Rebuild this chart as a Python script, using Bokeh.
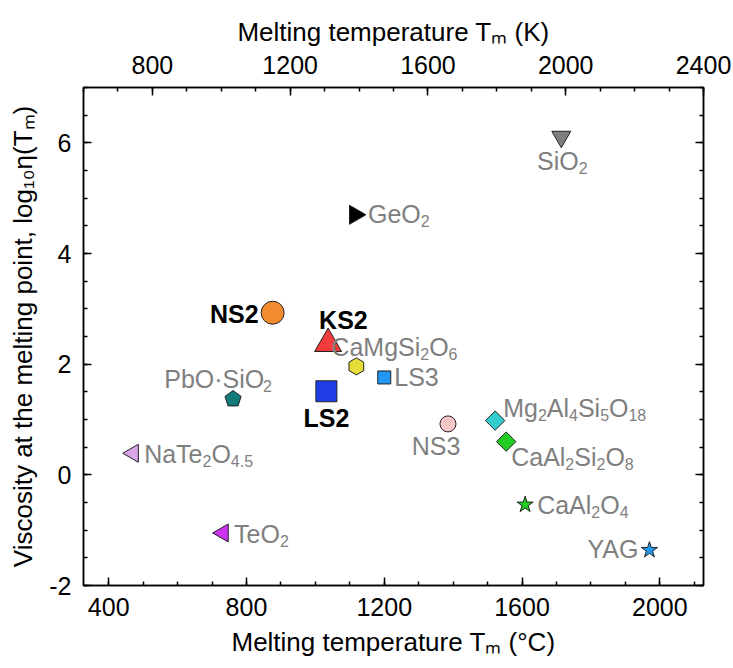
import math

from bokeh.core.properties import value
from bokeh.embed import file_html
from bokeh.models import (ColumnDataSource, CustomJSTickFormatter, LinearAxis,
                          Range1d, SingleIntervalTicker)
from bokeh.plotting import figure
from bokeh.resources import INLINE

# ---------------------------------------------------------------- data
names = ["SiO2", "GeO2", "NS2", "KS2", "LS2", "CaMgSi2O6", "LS3", "PbO·SiO2",
         "NaTe2O4.5", "TeO2", "NS3", "Mg2Al4Si5O18", "CaAl2Si2O8", "CaAl2O4", "YAG"]
tm_c = [1714, 1115, 876, 1037, 1032, 1119, 1200, 761,
        471, 732, 1385, 1522, 1554, 1609, 1970]
log_eta = [6.11, 4.70, 2.93, 2.37, 1.51, 1.96, 1.76, 1.37,
           0.39, -1.05, 0.92, 0.98, 0.60, -0.54, -1.36]

# label text pieces: n = normal, s = subscript, b = bold
label_parts = [
    [("SiO", "n"), ("2", "s")],
    [("GeO", "n"), ("2", "s")],
    [("NS2", "b")],
    [("KS2", "b")],
    [("LS2", "b")],
    [("CaMgSi", "n"), ("2", "s"), ("O", "n"), ("6", "s")],
    [("LS3", "n")],
    [("PbO·SiO", "n"), ("2", "s")],
    [("NaTe", "n"), ("2", "s"), ("O", "n"), ("4.5", "s")],
    [("TeO", "n"), ("2", "s")],
    [("NS3", "n")],
    [("Mg", "n"), ("2", "s"), ("Al", "n"), ("4", "s"), ("Si", "n"), ("5", "s"), ("O", "n"), ("18", "s")],
    [("CaAl", "n"), ("2", "s"), ("Si", "n"), ("2", "s"), ("O", "n"), ("8", "s")],
    [("CaAl", "n"), ("2", "s"), ("O", "n"), ("4", "s")],
    [("YAG", "n")],
]

x_title_c = "Melting temperature Tₘ (°C)"
x_title_k = "Melting temperature Tₘ (K)"
y_title = "Viscosity at the melting point, log₁₀η(Tₘ)"

x_step_c = 400      # bottom axis step, degC
x_step_k = 400      # top axis step, K
y_step = 2

# ---------------------------------------------------------------- style
markers = ["inverted_triangle", "triangle", "circle", "triangle", "square", "hex", "square", "pentagon",
           "triangle", "triangle", "circle", "square", "square", "star", "star"]
angles_deg = [0, -90, 0, 0, 0, 90, 0, 0, 90, 90, 0, 45, 45, 0, 0]
sizes = [19, 19, 23, 27, 21, 17, 13, 17, 18, 18, 16, 13.7, 13.7, 17, 17]
fills = ["#7f7f7f", "#000000", "#f28a30", "#f23c3c", "#1f3de6", "#e6dc3a", "#2196f3", "#127a7a",
         "#d9a6e8", "#cc33ee", "#f7c6c6", "#33cccc", "#22cc22", "#22cc22", "#2299ee"]
# (alignment, dx px, baseline dy px) of each label relative to its marker
label_place = [
    ("center", 1, 32), ("left", 13, 7), ("right", -14, 9.5), ("left", -9, -16),
    ("center", 0, 35), ("left", -25, -11), ("left", 10, 8), ("center", -15, -12),
    ("left", 11, 9), ("left", 11, 9), ("center", -12, 30), ("left", 8, -5),
    ("left", 5, 23), ("left", 12, 8), ("right", -11, 7),
]

FONT = "Liberation Sans"
FS, SUB, SUB_SHIFT = 25, 16, 7
TFS = 26
BASE_FIX = -8           # alphabetic baseline correction of the text glyph
GREY = "#7f7f7f"

W, H = 733, 668
FRAME_L, FRAME_T, FRAME_W, FRAME_H = 83, 87, 620, 498
X_C = (326.85, 2126.85)
X_K = (600, 2400)
Y_R = (-2, 7)

W_REG = {" ": 278, "(": 333, ")": 333, ",": 278, ".": 278, "·": 278, "°": 400,
         "A": 667, "C": 722, "G": 778, "K": 667, "L": 556, "M": 833, "N": 722, "O": 778,
         "P": 667, "S": 667, "T": 611, "V": 667, "Y": 667,
         "a": 556, "b": 556, "c": 500, "e": 556, "g": 556, "h": 556, "i": 222, "l": 222,
         "m": 833, "n": 556, "o": 556, "p": 556, "r": 333, "s": 500, "t": 278, "u": 556,
         "y": 500}
W_BOLD = {"N": 722, "S": 667, "K": 722, "L": 611}
KERN = {"Te": -111, "YA": -74}


def text_width(t, kind):
    table = W_BOLD if kind == "b" else W_REG
    size = SUB if kind == "s" else FS
    units = sum(table.get(c, 556) for c in t)
    units += sum(KERN.get(t[i:i + 2], 0) for i in range(len(t) - 1))
    return units * size / 1000.0


# ---------------------------------------------------------------- figure
p = figure(width=W, height=H, x_range=Range1d(*X_C), y_range=Range1d(*Y_R),
           output_backend="svg", toolbar_location=None, title=None,
           min_border_left=FRAME_L, min_border_right=W - FRAME_L - FRAME_W,
           min_border_top=FRAME_T, min_border_bottom=H - FRAME_T - FRAME_H)
p.extra_x_ranges = {"K": Range1d(*X_K)}
p.xgrid.visible = False
p.ygrid.visible = False
p.outline_line_color = "black"
p.outline_line_width = 1.5
p.background_fill_color = "white"
p.border_fill_color = "white"

bottom = p.below[0]
left = p.left[0]
bottom.ticker = SingleIntervalTicker(interval=x_step_c, num_minor_ticks=4)
left.ticker = SingleIntervalTicker(interval=y_step, num_minor_ticks=4)
left.formatter = CustomJSTickFormatter(code="return String(tick)")
top = LinearAxis(x_range_name="K", ticker=SingleIntervalTicker(interval=x_step_k, num_minor_ticks=4))
right = LinearAxis(ticker=SingleIntervalTicker(interval=y_step, num_minor_ticks=4),
                   formatter=CustomJSTickFormatter(code="return ''"))
p.add_layout(top, "above")
p.add_layout(right, "right")

bottom.axis_label = x_title_c
top.axis_label = x_title_k
left.axis_label = y_title

for ax in [bottom, left, top, right]:
    ax.major_tick_in = 8
    ax.major_tick_out = 0
    ax.minor_tick_in = 4
    ax.minor_tick_out = 0
    ax.axis_line_width = 1.5
    ax.major_tick_line_width = 1.5
    ax.minor_tick_line_width = 1.5
    ax.axis_line_color = "black"
    ax.major_tick_line_color = "black"
    ax.minor_tick_line_color = "black"
    ax.major_label_text_font = FONT
    ax.major_label_text_font_size = f"{FS}px"
    ax.major_label_text_color = "black"
    ax.major_label_standoff = 12
    ax.axis_label_text_font = FONT
    ax.axis_label_text_font_size = f"{TFS}px"
    ax.axis_label_text_font_style = "normal"
    ax.axis_label_text_color = "black"
    ax.axis_label_standoff = 8
top.major_label_standoff = 14
top.axis_label_standoff = 6

# ---------------------------------------------------------------- markers
sel = [i for i, m in enumerate(markers) if m != "pentagon"]
src = ColumnDataSource(dict(
    x=[tm_c[i] for i in sel], y=[log_eta[i] for i in sel],
    marker=[markers[i] for i in sel], size=[sizes[i] for i in sel],
    angle=[math.radians(angles_deg[i]) for i in sel], fill=[fills[i] for i in sel],
))
p.scatter(x="x", y="y", marker="marker", size="size", angle="angle", fill_color="fill",
          line_color="#222222", line_width=1, source=src)

pent = [i for i, m in enumerate(markers) if m == "pentagon"]
pent_src = ColumnDataSource(dict(
    x=[tm_c[i] for i in pent], y=[log_eta[i] for i in pent],
    angle=[math.radians(angles_deg[i]) for i in pent], fill=[fills[i] for i in pent],
    r=[sizes[i] / 2 for i in pent],
))
p.ngon(x="x", y="y", radius="r", radius_units="screen", n=5, angle="angle",
       fill_color="fill", line_color="#222222", line_width=1, source=pent_src)

# ---------------------------------------------------------------- point labels
rows = {k: dict(x=[], y=[], xo=[], yo=[], text=[]) for k in ("n", "s", "b")}
for x, y, parts, (align, dx, dy) in zip(tm_c, log_eta, label_parts, label_place):
    total = sum(text_width(t, k) for t, k in parts)
    cur = dx if align == "left" else (dx - total / 2 if align == "center" else dx - total)
    for t, k in parts:
        r = rows[k]
        r["x"].append(x)
        r["y"].append(y)
        r["xo"].append(cur)
        r["yo"].append(dy + BASE_FIX + (SUB_SHIFT if k == "s" else 0))
        r["text"].append(t)
        cur += text_width(t, k)

for k, size, color, style in [("n", FS, GREY, "normal"), ("s", SUB, GREY, "normal"),
                              ("b", FS, "black", "bold")]:
    p.text(x="x", y="y", text="text", x_offset="xo", y_offset="yo",
           source=ColumnDataSource(rows[k]), text_font=value(FONT),
           text_font_size=value(f"{size}px"), text_color=color, text_font_style=style,
           text_align="left", text_baseline="alphabetic")

open("out.html", "w").write(file_html(p, INLINE))
